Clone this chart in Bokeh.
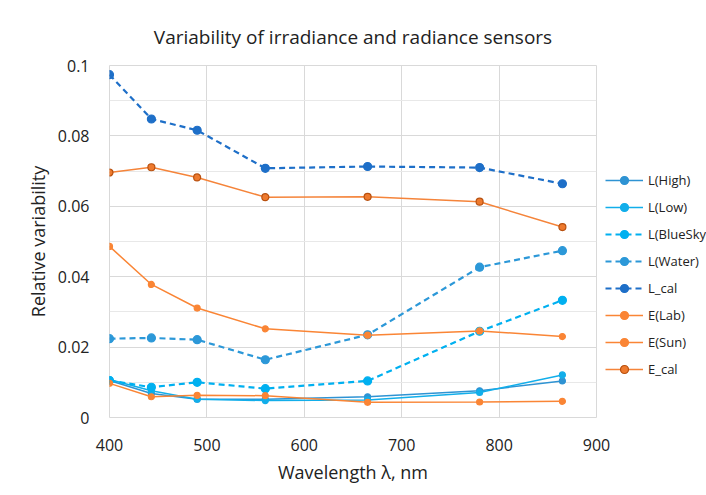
from bokeh.plotting import figure
from bokeh.models import Legend, LegendItem, FixedTicker, Range1d
from bokeh.embed import file_html
from bokeh.resources import INLINE

wavelength = [400, 443, 490, 560, 665, 780, 865]

L_high = [0.0105, 0.0068, 0.0052, 0.0052, 0.0059, 0.0076, 0.0104]
L_low = [0.0108, 0.0076, 0.0052, 0.0048, 0.0050, 0.0071, 0.0121]
L_bluesky = [0.0105, 0.0086, 0.0100, 0.0082, 0.0104, 0.0245, 0.0333]
L_water = [0.0224, 0.0226, 0.0221, 0.0164, 0.0235, 0.0427, 0.0474]
L_cal = [0.0974, 0.0848, 0.0816, 0.0708, 0.0713, 0.0710, 0.0664]
E_lab = [0.0486, 0.0378, 0.0311, 0.0252, 0.0234, 0.0246, 0.0230]
E_sun = [0.0097, 0.0059, 0.0063, 0.0062, 0.0043, 0.0044, 0.0046]
E_cal = [0.0696, 0.0711, 0.0682, 0.0626, 0.0627, 0.0613, 0.0541]

x_ticks = [400, 500, 600, 700, 800, 900]
y_ticks = [0, 0.02, 0.04, 0.06, 0.08, 0.1]
y_minor = [0.01, 0.03, 0.05, 0.07, 0.09]
y_labels = ["0", "0.02", "0.04", "0.06", "0.08", "0.1"]

FONT = "Open Sans"

p = figure(frame_width=487, frame_height=352, output_backend="svg",
           toolbar_location=None,
           x_range=Range1d(400, 900), y_range=Range1d(0, 0.1),
           title="Variability of irradiance and radiance sensors",
           min_border_left=109, min_border_top=65, min_border_bottom=72,
           min_border_right=0)

p.title.align = "center"
p.title.text_font = FONT
p.title.text_font_size = "19px"
p.title.text_font_style = "normal"
p.title.text_color = "#222222"
p.title.standoff = 32

p.outline_line_color = "#d9d9d9"
p.background_fill_color = "white"
p.border_fill_color = "white"

for ax in (p.xaxis, p.yaxis):
    ax.axis_line_color = None
    ax.major_tick_line_color = None
    ax.minor_tick_line_color = None
    ax.major_label_text_font = FONT
    ax.major_label_text_font_size = "16px"
    ax.major_label_text_color = "#222222"
    ax.axis_label_text_font = FONT
    ax.axis_label_text_font_size = "18px"
    ax.axis_label_text_font_style = "normal"
    ax.axis_label_text_color = "#222222"

p.xaxis.ticker = FixedTicker(ticks=x_ticks)
p.yaxis.ticker = FixedTicker(ticks=y_ticks, minor_ticks=y_minor)
p.yaxis.major_label_overrides = {t: s for t, s in zip(y_ticks, y_labels)}
p.xaxis.axis_label = "Wavelength λ, nm"
p.yaxis.axis_label = "Relative variability"
p.xaxis.major_label_standoff = 15
p.xaxis.axis_label_standoff = 6
p.yaxis.major_label_standoff = 14
p.yaxis.axis_label_standoff = 5

p.xgrid.grid_line_color = "#d9d9d9"
p.ygrid.grid_line_color = "#d9d9d9"
p.ygrid.minor_grid_line_color = "#e8e8e8"

series = [
    ("L(High)", L_high, "#2E93D3", "solid", 1.5, 6, "#2E93D3", "#2E93D3"),
    ("L(Low)", L_low, "#12AEEA", "solid", 1.5, 6, "#12AEEA", "#12AEEA"),
    ("L(BlueSky", L_bluesky, "#00B0F0", "6 4", 2.2, 8, "#00B0F0", "#00B0F0"),
    ("L(Water)", L_water, "#2C98D8", "6 4", 2.2, 8, "#2C98D8", "#2C98D8"),
    ("L_cal", L_cal, "#1E6FC8", "6 4", 2.2, 8, "#1E6FC8", "#1E6FC8"),
    ("E(Lab)", E_lab, "#FA8535", "solid", 1.5, 6, "#FA8535", "#FA8535"),
    ("E(Sun)", E_sun, "#FA8535", "solid", 1.5, 6, "#FA8535", "#FA8535"),
    ("E_cal", E_cal, "#F5843A", "solid", 1.5, 7, "#EE7A2E", "#B8500F"),
]

items = []
for name, ys, color, dash, lw, ms, fill, outline in series:
    r1 = p.line(wavelength, ys, line_color=color, line_dash=dash, line_width=lw)
    r2 = p.scatter(wavelength, ys, size=ms, fill_color=fill, line_color=outline,
                   line_width=1.2)
    items.append(LegendItem(label=name, renderers=[r1, r2]))

legend = Legend(items=items, location="top_left", padding=9, margin=9,
                title=" ", title_text_font_size="13px", title_standoff=81,
                border_line_color=None, background_fill_alpha=0,
                glyph_width=38, glyph_height=20, label_height=20, spacing=7,
                label_standoff=5, label_text_font=FONT,
                label_text_font_size="13px", label_text_color="#222222")
p.add_layout(legend, "right")

open("out.html", "w").write(file_html(p, INLINE))
